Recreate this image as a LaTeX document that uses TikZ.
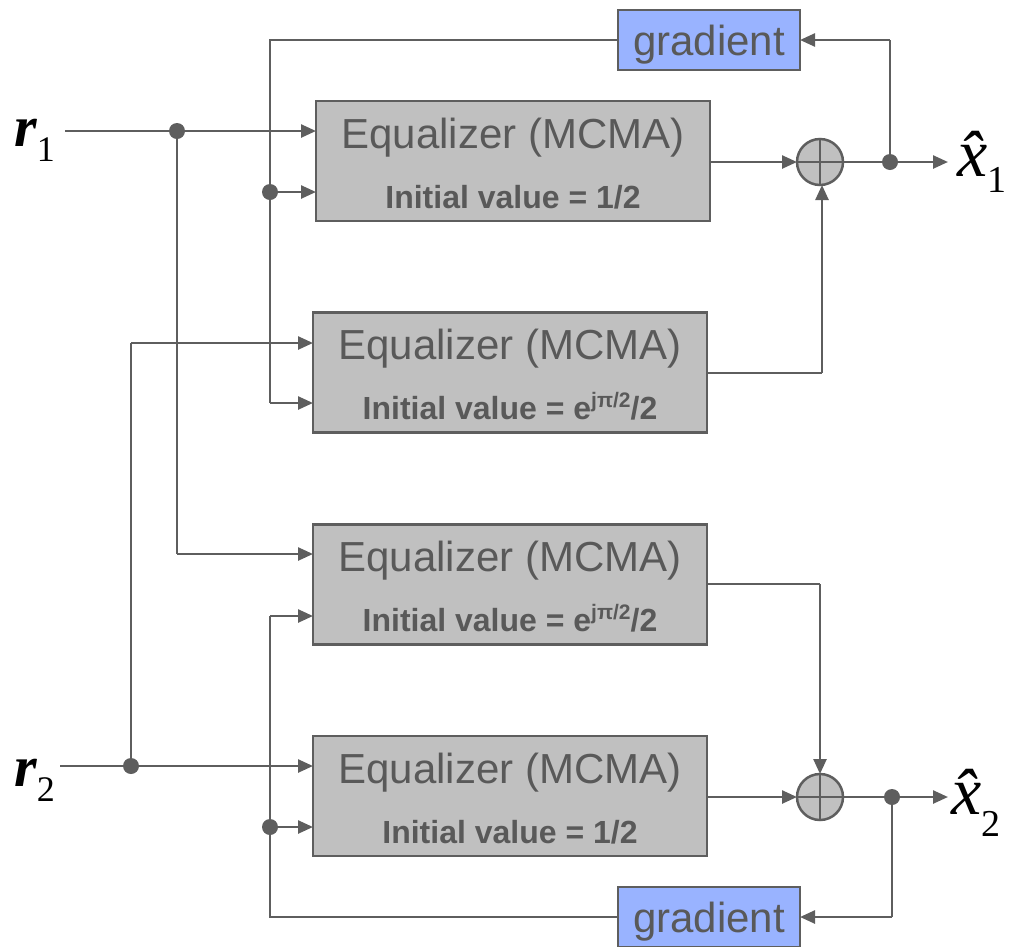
\documentclass[tikz,border=0pt]{standalone}
\usepackage{fontspec}
\setmainfont{Liberation Sans}
\newfontfamily\serifl{Liberation Serif}
\usetikzlibrary{arrows.meta,calc}
\definecolor{ln}{HTML}{5E5E5E}
\definecolor{boxfill}{HTML}{C0C0C0}
\definecolor{gradfill}{HTML}{99B3FF}
\definecolor{txt}{HTML}{595959}
\tikzset{
  wire/.style={draw=ln, line width=2.5pt},
  arr/.style={wire, -{Triangle[length=15pt,width=13pt]}},
  eqbox/.style={draw=ln, fill=boxfill, line width=2.5pt, minimum width=394pt, minimum height=120pt, inner sep=0pt, outer sep=0pt},
  gradbox/.style={draw=ln, fill=gradfill, line width=2.5pt, minimum width=182pt, minimum height=60pt, inner sep=0pt, outer sep=0pt},
  gradtext/.style={anchor=base, text=txt, inner sep=0pt, font=\fontsize{42}{42}\selectfont},
  sumnode/.style={circle, draw=ln, fill=boxfill, line width=2.5pt, minimum size=46pt, inner sep=0pt, outer sep=0pt},
  junction/.style={circle, fill=ln, minimum size=16pt, inner sep=0pt, outer sep=0pt},
  eqtext/.style={anchor=base, text=txt, inner sep=0pt, font=\fontsize{42}{42}\selectfont},
  ivtext/.style={anchor=base, text=txt, inner sep=0pt, font=\fontsize{32}{32}\selectfont\bfseries},
  lbl/.style={anchor=base west, inner sep=0pt, text=black}
}
\newcommand{\ejp}{e\raisebox{12pt}{\fontsize{21}{21}\selectfont jπ/2}/2}
\begin{document}
\begin{tikzpicture}[x=1pt,y=-1pt]
\useasboundingbox (0,0) rectangle (1010,946);
% boxes
\node[eqbox] (eq1) at (513,161) {};
\node[eqbox] (eq2) at (510,372.5) {};
\node[eqbox] (eq3) at (510,584.5) {};
\node[eqbox] (eq4) at (510,796) {};
\foreach \n/\v in {eq1/1\slash 2, eq2/\ejp, eq3/\ejp, eq4/1\slash 2}{
  \node[eqtext] (\n a) at ($(\n.north)+(0,47)$) {Equalizer (MCMA)};
  \node[ivtext] (\n b) at ($(\n.north)+(0,107)$) {Initial value = \v};
}
\node[gradbox] (grad1) at (709,40) {};
\node[gradbox] (grad2) at (709,917) {};
\node[gradtext] (grad1t) at ($(grad1.center)+(0,15)$) {gradient};
\node[gradtext] (grad2t) at ($(grad2.center)+(0,15)$) {gradient};
% summers
\node[sumnode] (sum1) at (820,162) {};
\node[sumnode] (sum2) at (820,797) {};
\foreach \s in {sum1,sum2}{
  \draw[wire] (\s.north) -- (\s.south);
  \draw[wire] (\s.west) -- (\s.east);
}
% junctions
\node[junction] (d1) at (177,131) {};
\node[junction] (d2) at (270,192) {};
\node[junction] (d3) at (890,162) {};
\node[junction] (d4) at (131,766) {};
\node[junction] (d5) at (270,827) {};
\node[junction] (d6) at (892,797) {};
% free ends
\coordinate (r1in) at (65,131);
\coordinate (r2in) at (60,766);
\coordinate (x1out) at (948,162);
\coordinate (x2out) at (948,797);
\coordinate (c1) at (270,40);
\coordinate (c2) at (270,403);
\coordinate (c3) at (177,554);
\coordinate (c4) at (131,343);
\coordinate (c5) at (822,373);
\coordinate (c6) at (820,584);
\coordinate (c7) at (890,40);
\coordinate (c8) at (892,917);
\coordinate (c9) at (270,917);
\coordinate (c10) at (270,616);
% labels
\node[lbl] (r1) at (14,146) {\serifl\fontsize{58}{58}\selectfont\bfseries\itshape r\raisebox{-15pt}{\fontsize{36}{36}\selectfont\mdseries\upshape 1}};
\node[lbl] (r2) at (14,786) {\serifl\fontsize{58}{58}\selectfont\bfseries\itshape r\raisebox{-15pt}{\fontsize{36}{36}\selectfont\mdseries\upshape 2}};
\node[lbl] (x1) at (957,176) {\serifl\fontsize{68}{68}\selectfont\itshape \^{x}\raisebox{-16pt}{\fontsize{38}{38}\selectfont\upshape 1}};
\node[lbl] (x2) at (951,814) {\serifl\fontsize{68}{68}\selectfont\itshape \^{x}\raisebox{-22pt}{\fontsize{38}{38}\selectfont\upshape 2}};
% connectors upper
\draw[arr] (r1in) -- (eq1.west |- r1in);
\draw[wire] (d1.center) -- (c3);
\draw[arr] (c3) -- (eq3.west |- c3);
\draw[wire] (grad1.west) -- (c1) -- (c2);
\draw[arr] (c2) -- (eq2.west |- c2);
\draw[arr] (d2.center) -- (eq1.west |- d2);
\draw[arr] (eq1.east |- sum1) -- (sum1.west);
\draw[wire] (eq2.east |- c5) -- (c5);
\draw[arr] (c5) -- (sum1.south -| c5);
\draw[wire] (sum1.east) -- (d3.center);
\draw[arr] (d3.center) -- (x1out);
\draw[wire] (d3.center) -- (c7);
\draw[arr] (c7) -- (grad1.east);
% connectors lower
\draw[arr] (r2in) -- (eq4.west |- r2in);
\draw[wire] (d4.center) -- (c4);
\draw[arr] (c4) -- (eq2.west |- c4);
\draw[wire] (eq3.east |- c6) -- (c6);
\draw[arr] (c6) -- (sum2.north);
\draw[arr] (eq4.east |- sum2) -- (sum2.west);
\draw[wire] (sum2.east) -- (d6.center);
\draw[arr] (d6.center) -- (x2out);
\draw[wire] (d6.center) -- (c8);
\draw[arr] (c8) -- (grad2.east);
\draw[wire] (grad2.west) -- (c9) -- (c10);
\draw[arr] (c10) -- (eq3.west |- c10);
\draw[arr] (d5.center) -- (eq4.west |- d5);
\end{tikzpicture}
\end{document}
